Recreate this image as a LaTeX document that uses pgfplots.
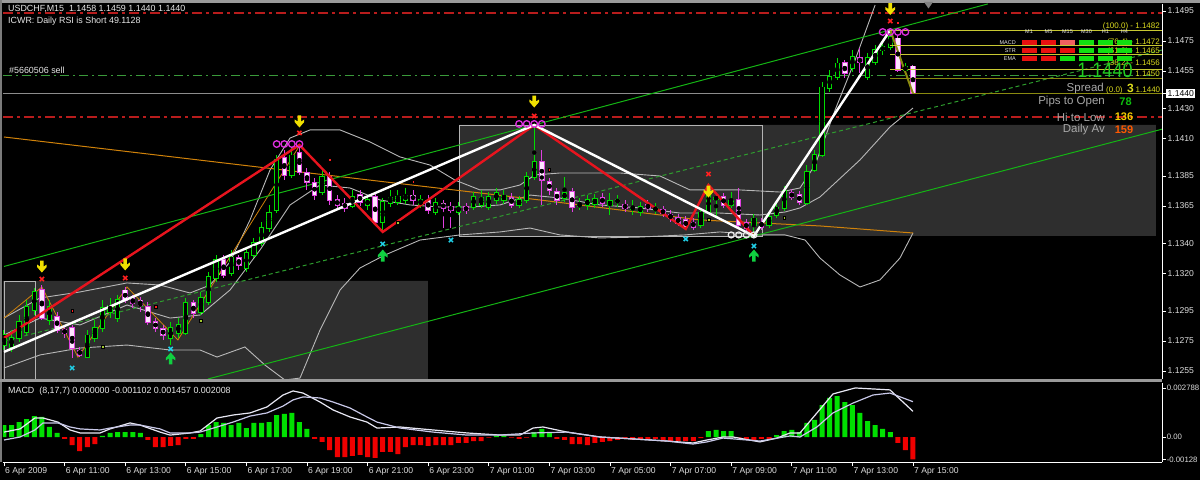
\documentclass[border=0pt]{standalone}
\usepackage{pgfplots}
\pgfplotsset{compat=1.18}
\usepackage{pgfplotstable}
\usepackage{fontspec}
\setmainfont{Liberation Sans}

\definecolor{bullc}{HTML}{00DC00}
\definecolor{bearo}{HTML}{E040E0}
\definecolor{bearin}{HTML}{FFE4FF}
\definecolor{boxfill}{HTML}{2E2E2E}
\definecolor{boxline}{HTML}{B4B4B4}
\definecolor{bbgray}{HTML}{B8B8B8}
\definecolor{tline}{HTML}{14B414}
\definecolor{dline}{HTML}{2E9E2E}
\definecolor{oline}{HTML}{D0820A}
\definecolor{zzred}{HTML}{E8141E}
\definecolor{fibc}{HTML}{C8C832}
\definecolor{fibt}{HTML}{DCDC1E}
\definecolor{ddred}{HTML}{B81C1C}
\definecolor{ordg}{HTML}{3A9A3A}
\definecolor{bidg}{HTML}{8C8C8C}
\definecolor{olivel}{HTML}{8A8A10}
\definecolor{arrowy}{HTML}{F0E000}
\definecolor{xred}{HTML}{FF2020}
\definecolor{circm}{HTML}{E030E0}
\definecolor{cyx}{HTML}{20D0E8}
\definecolor{upg}{HTML}{10D040}
\definecolor{ygdot}{HTML}{A0C830}
\definecolor{macdg}{HTML}{00E000}
\definecolor{macdr}{HTML}{F00000}
\definecolor{macdA}{HTML}{E8E8F4}
\definecolor{macdB}{HTML}{C8C8E8}
\definecolor{mtw}{HTML}{E6E6E6}
\definecolor{ticktext}{HTML}{DCDCDC}
\definecolor{chromec}{HTML}{9A9A9A}
\definecolor{infogray}{HTML}{A8A8A8}
\definecolor{biggreen}{HTML}{22CC22}
\definecolor{cellred}{HTML}{E81010}
\definecolor{cellsal}{HTML}{F06060}
\definecolor{cellgrn}{HTML}{10E010}

\newcommand{\mtf}{\fontsize{8.9}{10}\selectfont}
\newcommand{\tkf}{\fontsize{8.6}{10}\selectfont}
\newcommand{\smf}{\fontsize{5.5}{6}\selectfont}
\newcommand{\infofont}{\fontsize{11.5}{13}\selectfont}

\pgfdeclareplotmark{darrow}{%
  \pgfpathmoveto{\pgfqpoint{-1.8pt}{6.5pt}}%
  \pgfpathlineto{\pgfqpoint{1.8pt}{6.5pt}}%
  \pgfpathlineto{\pgfqpoint{1.8pt}{0.5pt}}%
  \pgfpathlineto{\pgfqpoint{4.8pt}{2.5pt}}%
  \pgfpathlineto{\pgfqpoint{4.8pt}{0pt}}%
  \pgfpathlineto{\pgfqpoint{0pt}{-5.5pt}}%
  \pgfpathlineto{\pgfqpoint{-4.8pt}{0pt}}%
  \pgfpathlineto{\pgfqpoint{-4.8pt}{2.5pt}}%
  \pgfpathlineto{\pgfqpoint{-1.8pt}{0.5pt}}%
  \pgfpathclose
  \pgfusepathqfill}
\pgfdeclareplotmark{uarrow}{%
  \pgfpathmoveto{\pgfqpoint{-1.8pt}{-6.5pt}}%
  \pgfpathlineto{\pgfqpoint{1.8pt}{-6.5pt}}%
  \pgfpathlineto{\pgfqpoint{1.8pt}{-0.5pt}}%
  \pgfpathlineto{\pgfqpoint{4.8pt}{-2.5pt}}%
  \pgfpathlineto{\pgfqpoint{4.8pt}{0pt}}%
  \pgfpathlineto{\pgfqpoint{0pt}{5.5pt}}%
  \pgfpathlineto{\pgfqpoint{-4.8pt}{0pt}}%
  \pgfpathlineto{\pgfqpoint{-4.8pt}{-2.5pt}}%
  \pgfpathlineto{\pgfqpoint{-1.8pt}{-0.5pt}}%
  \pgfpathclose
  \pgfusepathqfill}

\pgfplotstableread{
t o h l c d
9.00 1.12723 1.12823 1.12690 1.12790 1
9.25 1.12710 1.12823 1.12677 1.12770 1
9.50 1.12770 1.12923 1.12743 1.12877 1
9.75 1.12810 1.13023 1.12790 1.12977 1
10.00 1.12957 1.13103 1.12923 1.13077 1
10.25 1.13090 1.13123 1.12890 1.12903 0
10.50 1.12890 1.13023 1.12857 1.12977 1
10.75 1.12910 1.12943 1.12803 1.12823 0
11.00 1.12823 1.12857 1.12770 1.12803 0
11.25 1.12837 1.12857 1.12637 1.12703 0
11.50 1.12690 1.12710 1.12643 1.12657 0
11.75 1.12643 1.12823 1.12637 1.12790 1
12.00 1.12770 1.12890 1.12743 1.12837 1
12.25 1.12837 1.13023 1.12810 1.12970 1
12.50 1.12943 1.13037 1.12903 1.12990 1
12.75 1.12903 1.13057 1.12877 1.13023 1
13.00 1.13090 1.13110 1.13003 1.13023 0
13.25 1.13037 1.13057 1.12970 1.13003 0
13.50 1.13023 1.13043 1.12943 1.12990 0
13.75 1.12977 1.13010 1.12857 1.12877 0
14.00 1.12877 1.12903 1.12810 1.12837 0
14.25 1.12830 1.12857 1.12757 1.12790 0
14.50 1.12770 1.12877 1.12723 1.12837 1
14.75 1.12803 1.12903 1.12770 1.12857 1
15.00 1.12803 1.13037 1.12790 1.13003 1
15.25 1.13003 1.13023 1.12903 1.12937 0
15.50 1.12943 1.13077 1.12923 1.13037 1
15.75 1.13010 1.13210 1.12990 1.13177 1
16.00 1.13170 1.13323 1.13143 1.13290 1
16.25 1.13290 1.13323 1.13170 1.13190 0
16.50 1.13203 1.13357 1.13183 1.13310 1
16.75 1.13303 1.13323 1.13223 1.13257 0
17.00 1.13237 1.13370 1.13210 1.13337 1
17.25 1.13323 1.13437 1.13303 1.13403 1
17.50 1.13403 1.13543 1.13383 1.13503 1
17.75 1.13503 1.13657 1.13477 1.13603 1
18.00 1.13623 1.13990 1.13603 1.13957 1
18.25 1.13970 1.14023 1.13823 1.13857 0
18.50 1.13857 1.14037 1.13837 1.13990 1
18.75 1.14003 1.14057 1.13857 1.13877 0
19.00 1.13870 1.13903 1.13757 1.13810 0
19.25 1.13803 1.13837 1.13690 1.13723 0
19.50 1.13743 1.13890 1.13723 1.13843 1
19.75 1.13843 1.13877 1.13657 1.13690 0
20.00 1.13690 1.13723 1.13623 1.13657 0
20.25 1.13670 1.13703 1.13610 1.13637 0
20.50 1.13650 1.13757 1.13637 1.13710 1
20.75 1.13723 1.13757 1.13650 1.13677 0
21.00 1.13657 1.13723 1.13623 1.13690 1
21.25 1.13710 1.13743 1.13523 1.13543 0
21.50 1.13543 1.13703 1.13477 1.13677 1
21.75 1.13670 1.13757 1.13643 1.13703 1
22.00 1.13677 1.13757 1.13657 1.13710 1
22.25 1.13690 1.13770 1.13663 1.13723 1
22.50 1.13723 1.13757 1.13657 1.13690 0
22.75 1.13657 1.13723 1.13637 1.13690 1
23.00 1.13690 1.13723 1.13597 1.13623 0
23.25 1.13610 1.13703 1.13590 1.13670 1
23.50 1.13670 1.13690 1.13503 1.13637 0
23.75 1.13650 1.13677 1.13503 1.13623 0
24.00 1.13610 1.13677 1.13590 1.13643 1
24.25 1.13643 1.13670 1.13597 1.13623 0
24.50 1.13643 1.13743 1.13623 1.13710 1
24.75 1.13657 1.13757 1.13637 1.13703 1
25.00 1.13643 1.13743 1.13623 1.13710 1
25.25 1.13690 1.13770 1.13663 1.13737 1
25.50 1.13690 1.13757 1.13663 1.13723 1
25.75 1.13703 1.13737 1.13637 1.13657 0
26.00 1.13657 1.13717 1.13637 1.13690 1
26.25 1.13690 1.13877 1.13670 1.13843 1
26.50 1.13843 1.14190 1.13823 1.13943 1
26.75 1.13943 1.14023 1.13657 1.13823 0
27.00 1.13810 1.13837 1.13723 1.13757 0
27.25 1.13743 1.13770 1.13657 1.13690 0
27.50 1.13703 1.13843 1.13677 1.13737 1
27.75 1.13743 1.13770 1.13610 1.13643 0
28.00 1.13650 1.13703 1.13623 1.13663 1
28.25 1.13657 1.13723 1.13623 1.13690 1
28.50 1.13663 1.13730 1.13637 1.13697 1
28.75 1.13703 1.13737 1.13643 1.13670 0
29.00 1.13657 1.13737 1.13590 1.13683 1
29.25 1.13677 1.13723 1.13643 1.13690 1
29.50 1.13657 1.13690 1.13610 1.13637 0
29.75 1.13630 1.13690 1.13590 1.13643 1
30.00 1.13610 1.13677 1.13583 1.13643 1
30.25 1.13657 1.13690 1.13610 1.13637 0
30.50 1.13623 1.13670 1.13597 1.13637 1
30.75 1.13623 1.13650 1.13577 1.13603 0
31.00 1.13590 1.13623 1.13543 1.13570 0
31.25 1.13570 1.13597 1.13517 1.13537 0
31.50 1.13557 1.13583 1.13490 1.13510 0
31.75 1.13543 1.13570 1.13490 1.13510 0
32.00 1.13523 1.13637 1.13503 1.13610 1
32.25 1.13610 1.13803 1.13597 1.13723 1
32.50 1.13697 1.13730 1.13570 1.13710 1
32.75 1.13710 1.13737 1.13637 1.13657 0
33.00 1.13657 1.13743 1.13637 1.13683 1
33.25 1.13690 1.13770 1.13503 1.13523 0
33.50 1.13537 1.13563 1.13477 1.13503 0
33.75 1.13523 1.13597 1.13450 1.13570 1
34.00 1.13543 1.13570 1.13490 1.13510 0
34.25 1.13523 1.13610 1.13503 1.13577 1
34.50 1.13590 1.13677 1.13570 1.13643 1
34.75 1.13637 1.13783 1.13617 1.13750 1
35.00 1.13737 1.13763 1.13690 1.13710 0
35.25 1.13723 1.13750 1.13657 1.13677 0
35.50 1.13670 1.13923 1.13657 1.13877 1
35.75 1.13890 1.14023 1.13877 1.13990 1
36.00 1.13990 1.14477 1.13977 1.14443 1
36.25 1.14437 1.14557 1.14410 1.14510 1
36.50 1.14510 1.14637 1.14490 1.14603 1
36.75 1.14603 1.14623 1.14503 1.14537 0
37.00 1.14570 1.14690 1.14543 1.14643 1
37.25 1.14637 1.14703 1.14537 1.14610 0
37.50 1.14510 1.14670 1.14490 1.14637 1
37.75 1.14610 1.14723 1.14590 1.14690 1
38.00 1.14690 1.14743 1.14657 1.14710 1
38.25 1.14710 1.14823 1.14690 1.14777 1
38.50 1.14770 1.14790 1.14543 1.14557 0
38.75 1.14557 1.14603 1.14537 1.14577 1
39.00 1.14580 1.14590 1.14400 1.14400 0
}\candles

\pgfplotstableread{
t v
9.00 0.00068
9.25 0.00068
9.50 0.00085
9.75 0.00102
10.00 0.00119
10.25 0.00114
10.50 0.00057
10.75 0.00023
11.00 -0.00011
11.25 -0.00046
11.50 -0.00080
11.75 -0.00057
12.00 -0.00040
12.25 0.00006
12.50 0.00023
12.75 0.00028
13.00 0.00028
13.25 0.00028
13.50 0.00023
13.75 -0.00017
14.00 -0.00057
14.25 -0.00057
14.50 -0.00051
14.75 -0.00046
15.00 -0.00011
15.25 -0.00011
15.50 0.00017
15.75 0.00068
16.00 0.00085
16.25 0.00080
16.50 0.00068
16.75 0.00080
17.00 0.00051
17.25 0.00080
17.50 0.00080
17.75 0.00085
18.00 0.00125
18.25 0.00131
18.50 0.00137
18.75 0.00085
19.00 0.00046
19.25 -0.00011
19.50 -0.00028
19.75 -0.00074
20.00 -0.00114
20.25 -0.00114
20.50 -0.00108
20.75 -0.00102
21.00 -0.00114
21.25 -0.00119
21.50 -0.00085
21.75 -0.00085
22.00 -0.00097
22.25 -0.00057
22.50 -0.00046
22.75 -0.00046
23.00 -0.00051
23.25 -0.00046
23.50 -0.00046
23.75 -0.00046
24.00 -0.00034
24.25 -0.00034
24.50 -0.00023
24.75 -0.00023
25.00 -0.00003
25.25 0.00006
25.50 0.00006
25.75 -0.00003
26.00 -0.00011
26.25 -0.00003
26.50 0.00028
26.75 0.00046
27.00 0.00023
27.25 -0.00011
27.50 -0.00017
27.75 -0.00040
28.00 -0.00040
28.25 -0.00046
28.50 -0.00034
28.75 -0.00028
29.00 -0.00023
29.25 -0.00017
29.50 -0.00011
29.75 -0.00017
30.00 -0.00017
30.25 -0.00017
30.50 -0.00011
30.75 -0.00023
31.00 -0.00023
31.25 -0.00023
31.50 -0.00023
31.75 -0.00023
32.00 -0.00006
32.25 0.00034
32.50 0.00040
32.75 0.00034
33.00 0.00034
33.25 -0.00003
33.50 -0.00011
33.75 -0.00017
34.00 -0.00011
34.25 -0.00011
34.50 0.00011
34.75 0.00034
35.00 0.00040
35.25 0.00028
35.50 0.00080
35.75 0.00097
36.00 0.00182
36.25 0.00222
36.50 0.00233
36.75 0.00199
37.00 0.00182
37.25 0.00137
37.50 0.00091
37.75 0.00068
38.00 0.00046
38.25 0.00028
38.50 -0.00034
38.75 -0.00074
39.00 -0.00128
}\hist

\begin{document}
\begin{tikzpicture}[x=1pt,y=1pt]
\path[use as bounding box] (0,0) rectangle (1200,480);
\fill[black] (0,0) rectangle (1200,480);

%================ MAIN PRICE PANEL =================
\begin{axis}[
  at={(3pt,476pt)}, anchor=north west,
  scale only axis, width=1159pt, height=375pt,
  xmin=8.967, xmax=47.218, ymin=1.124966, ymax=1.149966,
  axis x line=none, axis y line*=right,
  axis line style={-, draw=white, line width=0.8pt},
  ytick={1.1255,1.1275,1.1295,1.1320,1.1340,1.1365,1.1385,1.1410,1.1430,1.1455,1.1475,1.1495},
  yticklabels={1.1255,1.1275,1.1295,1.1320,1.1340,1.1365,1.1385,1.1410,1.1430,1.1455,1.1475,1.1495},
  extra y ticks={1.1440}, extra y tick labels={1.1440},
  extra y tick style={tick label style={fill=white, text=black, inner sep=1.2pt}},
  scaled y ticks=false,
  tick align=outside, major tick length=4pt,
  tick style={draw=white, line width=0.6pt},
  every tick label/.append style={font=\tkf, text=ticktext},
  yticklabel style={inner sep=1.5pt},
  /pgf/number format/assume math mode=true,
]
% shaded boxes
\addplot[fill=boxfill, draw=none] coordinates {(8.967,1.124966) (22.99,1.124966) (22.99,1.13150) (8.967,1.13150) (8.967,1.124966)};
\addplot[draw=boxline, line width=0.8pt] coordinates {(9.0,1.124966) (9.0,1.13150) (10.02,1.13150) (10.02,1.124966)};
\addplot[fill=boxfill, draw=none] coordinates {(34.02,1.13450) (47.02,1.13450) (47.02,1.14190) (34.02,1.14190) (34.02,1.13450)};
\addplot[fill=boxfill, draw=boxline, line width=0.8pt] coordinates {(24.02,1.13450) (34.02,1.13450) (34.02,1.14190) (24.02,1.14190) (24.02,1.13450)};

% horizontal levels
\addplot[draw=ddred, line width=1.2pt, dash pattern=on 10pt off 4pt on 3pt off 4pt] coordinates {(8.967,1.14937) (47.218,1.14937)};
\addplot[draw=ddred, line width=1.2pt, dash pattern=on 10pt off 4pt on 3pt off 4pt] coordinates {(8.967,1.14243) (47.218,1.14243)};
\addplot[draw=ordg, line width=1pt, dash pattern=on 9pt off 4pt on 2pt off 4pt] coordinates {(8.967,1.14517) (47.218,1.14517)};
\addplot[draw=bidg, line width=0.8pt] coordinates {(8.967,1.1440) (47.218,1.1440)};

% Bollinger bands
\addplot[draw=bbgray, line width=0.9pt] coordinates {(9.00,1.12903) (10.19,1.13037) (11.51,1.13077) (13.06,1.13137) (14.15,1.13123) (15.14,1.13070) (15.80,1.13123) (16.46,1.13277) (17.12,1.13557) (17.78,1.13890) (18.44,1.14103) (19.10,1.14157) (20.09,1.14157) (21.08,1.14077) (22.07,1.13977) (23.06,1.13923) (23.88,1.13823) (24.71,1.13757) (25.37,1.13757) (26.03,1.13790) (26.52,1.13857) (27.35,1.13870) (29.33,1.13870) (30.65,1.13850) (31.64,1.13757) (33.29,1.13757) (34.61,1.13743) (35.27,1.13770) (35.77,1.13923) (36.43,1.14290) (37.09,1.14623) (37.75,1.14990)};
\addplot[draw=bbgray, line width=0.9pt] coordinates {(9.00,1.12790) (10.19,1.12903) (11.51,1.12857) (13.06,1.12990) (14.48,1.12903) (15.47,1.12923) (16.46,1.13090) (17.45,1.13357) (18.44,1.13657) (19.43,1.13790) (20.42,1.13770) (21.41,1.13690) (22.40,1.13657) (23.39,1.13643) (24.38,1.13643) (25.37,1.13657) (26.36,1.13723) (27.35,1.13703) (28.67,1.13657) (29.99,1.13637) (31.31,1.13603) (32.63,1.13603) (33.95,1.13590) (34.78,1.13610) (35.27,1.13637) (35.93,1.13710) (37.25,1.13957) (38.24,1.14177) (39.00,1.14303)};
\addplot[draw=bbgray, line width=0.9pt] coordinates {(9.00,1.12570) (10.19,1.12657) (11.51,1.12703) (13.06,1.12723) (14.48,1.12690) (15.47,1.12690) (16.03,1.12643) (16.95,1.12710) (17.61,1.12590) (18.27,1.12490) (18.77,1.12503) (19.43,1.12823) (20.09,1.13090) (20.75,1.13237) (21.57,1.13323) (22.73,1.13423) (24.05,1.13457) (25.37,1.13477) (26.36,1.13503) (27.35,1.13457) (28.67,1.13437) (29.99,1.13443) (31.47,1.13457) (32.63,1.13477) (33.95,1.13457) (34.78,1.13457) (35.44,1.13423) (35.93,1.13303) (36.59,1.13190) (37.25,1.13110) (37.91,1.13157) (38.57,1.13303) (39.00,1.13470)};

% trend lines and averages
\addplot[draw=oline, line width=1pt] coordinates {(9.0,1.14110) (18.77,1.13877) (26.69,1.13690) (31.97,1.13557) (35.93,1.13517) (39.0,1.13470)};
\addplot[draw=oline, line width=0.8pt] coordinates {(9.00,1.12903) (10.25,1.13110) (11.44,1.12643) (13.06,1.13110) (14.74,1.12757) (18.77,1.14057)};
\addplot[draw=tline, line width=1pt] coordinates {(9.0,1.13247) (41.47,1.14997)};
\addplot[draw=tline, line width=1pt] coordinates {(15.73,1.124966) (47.218,1.14162)};
\addplot[draw=dline, line width=1pt, dash pattern=on 4pt off 3pt] coordinates {(9.0,1.12750) (47.218,1.14690)};

% candles: wicks
\addplot[only marks, mark=none, restrict expr to domain={\thisrow{d}}{0.5:1.5},
  error bars/.cd, y dir=both, y explicit, error mark=none,
  error bar style={draw=bullc, line width=1pt}]
  table[x=t, y expr={(\thisrow{h}+\thisrow{l})/2}, y error expr={(\thisrow{h}-\thisrow{l})/2}] {\candles};
\addplot[only marks, mark=none, restrict expr to domain={\thisrow{d}}{-0.5:0.5},
  error bars/.cd, y dir=both, y explicit, error mark=none,
  error bar style={draw=bearo, line width=1pt}]
  table[x=t, y expr={(\thisrow{h}+\thisrow{l})/2}, y error expr={(\thisrow{h}-\thisrow{l})/2}] {\candles};
% candles: bodies
\addplot[only marks, mark=none, restrict expr to domain={\thisrow{d}}{0.5:1.5},
  error bars/.cd, y dir=both, y explicit, error mark=none,
  error bar style={draw=bullc, line width=5.4pt, shorten <=-0.7pt, shorten >=-0.7pt}]
  table[x=t, y expr={(\thisrow{o}+\thisrow{c})/2}, y error expr={abs(\thisrow{c}-\thisrow{o})/2}] {\candles};
\addplot[only marks, mark=none, restrict expr to domain={\thisrow{d}}{0.5:1.5},
  error bars/.cd, y dir=both, y explicit, error mark=none,
  error bar style={draw=black, line width=3.4pt}]
  table[x=t, y expr={(\thisrow{o}+\thisrow{c})/2}, y error expr={abs(\thisrow{c}-\thisrow{o})/2}] {\candles};
\addplot[only marks, mark=none, restrict expr to domain={\thisrow{d}}{-0.5:0.5},
  error bars/.cd, y dir=both, y explicit, error mark=none,
  error bar style={draw=bearo, line width=5.4pt, shorten <=-0.7pt, shorten >=-0.7pt}]
  table[x=t, y expr={(\thisrow{o}+\thisrow{c})/2}, y error expr={abs(\thisrow{c}-\thisrow{o})/2}] {\candles};
\addplot[only marks, mark=none, restrict expr to domain={\thisrow{d}}{-0.5:0.5},
  error bars/.cd, y dir=both, y explicit, error mark=none,
  error bar style={draw=bearin, line width=3.4pt}]
  table[x=t, y expr={(\thisrow{o}+\thisrow{c})/2}, y error expr={abs(\thisrow{c}-\thisrow{o})/2}] {\candles};

% zigzags
\addplot[draw=zzred, line width=2.4pt] coordinates {(9.00,1.12770) (18.75,1.14057) (21.50,1.13477) (26.50,1.14190) (31.50,1.13497) (32.25,1.13790) (33.75,1.13450)};
\addplot[draw=white, line width=2.4pt] coordinates {(9.00,1.12677) (26.50,1.14190) (33.75,1.13450) (38.25,1.14823)};
\addplot[draw=olivel, line width=2pt] coordinates {(38.25,1.14823) (39.0,1.1440)};

% fibonacci levels
\addplot[draw=fibc, line width=0.9pt] coordinates {(38.25,1.1482) (47.218,1.1482)};
\addplot[draw=fibc, line width=0.9pt] coordinates {(38.25,1.14721) (47.218,1.14721)};
\addplot[draw=fibc, line width=0.9pt] coordinates {(38.25,1.14660) (47.218,1.14660)};
\addplot[draw=fibc, line width=0.9pt] coordinates {(38.25,1.14560) (47.218,1.14560)};
\addplot[draw=olivel, line width=1.2pt] coordinates {(38.25,1.14499) (47.218,1.14499)};
\addplot[draw=olivel, line width=1.2pt] coordinates {(39.0,1.1440) (47.218,1.1440)};

% markers
\addplot[only marks, mark=darrow, mark options={fill=arrowy, draw=none}] coordinates {(10.25,1.13243) (13.0,1.13257) (18.75,1.14210) (26.5,1.14343) (32.25,1.13743) (38.25,1.14960)};
\addplot[only marks, mark=x, mark size=3pt, mark options={draw=xred, line width=1.6pt}] coordinates {(10.25,1.13163) (13.0,1.13170) (18.75,1.14137) (26.5,1.14250) (32.25,1.13863) (38.25,1.14883)};
\addplot[only marks, mark=o, mark size=3.3pt, mark options={draw=circm, line width=1.3pt}] coordinates {(18.0,1.14063) (18.25,1.14063) (18.5,1.14063) (18.75,1.14063) (26.0,1.14197) (26.25,1.14197) (26.5,1.14197) (26.75,1.14197) (38.0,1.14810) (38.25,1.14810) (38.5,1.14810) (38.75,1.14810)};
\addplot[only marks, mark=o, mark size=3pt, mark options={draw=white!85!gray, line width=1.2pt}] coordinates {(33.0,1.13457) (33.25,1.13457) (33.5,1.13457) (33.75,1.13457)};
\addplot[only marks, mark=x, mark size=3pt, mark options={draw=cyx, line width=1.5pt}] coordinates {(11.25,1.12570) (14.5,1.12697) (21.5,1.13397) (23.75,1.13423) (31.5,1.13430) (33.75,1.13383)};
\addplot[only marks, mark=uarrow, mark options={fill=upg, draw=none}] coordinates {(14.5,1.12637) (21.5,1.13323) (33.75,1.13323)};
\addplot[only marks, mark=square*, mark size=1.4pt, mark options={fill=ygdot, draw=none}] coordinates {(12.25,1.12710) (15.5,1.12883) (22.0,1.13537) (32.25,1.13557) (34.75,1.13570)};
\addplot[only marks, mark=square*, mark size=1.3pt, mark options={fill=xred, draw=none}] coordinates {(11.25,1.12950) (14.0,1.12977) (19.75,1.13957) (22.5,1.13810) (27.0,1.13890) (38.5,1.14870)};
\end{axis}

%================ MACD PANEL =================
\begin{axis}[
  at={(3pt,97pt)}, anchor=north west,
  scale only axis, width=1159pt, height=79pt,
  xmin=8.967, xmax=47.218, ymin=-0.0014225, ymax=0.0030726,
  axis x line*=bottom, axis y line*=right,
  axis line style={-, draw=white, line width=0.8pt},
  xtick={9,11,13,15,17,19,21,23,25,27,29,31,33,35,37,39},
  xticklabels={6 Apr 2009,6 Apr 11:00,6 Apr 13:00,6 Apr 15:00,6 Apr 17:00,6 Apr 19:00,6 Apr 21:00,6 Apr 23:00,7 Apr 01:00,7 Apr 03:00,7 Apr 05:00,7 Apr 07:00,7 Apr 09:00,7 Apr 11:00,7 Apr 13:00,7 Apr 15:00},
  ytick={-0.00128,0,0.002788}, yticklabels={-0.00128,0.00,0.002788},
  scaled y ticks=false, scaled x ticks=false,
  tick align=outside, major tick length=4pt,
  tick style={draw=white, line width=0.6pt},
  every tick label/.append style={font=\tkf, text=ticktext},
  xticklabel style={anchor=north west, inner sep=1pt},
  yticklabel style={font=\fontsize{7.8}{9}\selectfont, inner sep=0.6pt},
  /pgf/number format/assume math mode=true,
]
\addplot[ybar, bar width=5pt, bar shift=0pt, fill=macdg, draw=none, restrict y to domain=0:1] table[x=t, y=v] {\hist};
\addplot[ybar, bar width=5pt, bar shift=0pt, fill=macdr, draw=none, restrict y to domain=-1:0] table[x=t, y=v] {\hist};
\addplot[draw=macdA, line width=1.2pt] coordinates {(9.0,0.00028) (9.53,0.00046) (10.02,0.00108) (10.29,0.00108) (10.78,0.00085) (11.18,0.00040) (11.51,0.00023) (12.17,0.00023) (12.50,0.00046) (13.16,0.00080) (13.49,0.00068) (14.15,0.00028) (14.48,0.00011) (15.14,0.00023) (15.47,0.00034) (16.03,0.00108) (16.56,0.00125) (17.12,0.00137) (17.68,0.00171) (18.21,0.00239) (18.54,0.00262) (18.87,0.00250) (19.43,0.00199) (19.86,0.00154) (20.42,0.00114) (20.98,0.00085) (21.31,0.00051) (22.07,0.00057) (23.16,0.00040) (24.28,0.00023) (25.37,0.00011) (26.03,0.00011) (26.46,0.00051) (26.79,0.00057) (27.58,0.00028) (28.67,0.0) (29.76,-0.00011) (30.88,-0.00023) (31.74,-0.00034) (32.20,-0.00017) (32.73,0.0) (33.06,0.0) (33.95,-0.00028) (34.51,-0.00006) (34.94,0.00023) (35.27,0.00023) (35.83,0.00137) (36.36,0.00245) (37.09,0.00279) (38.24,0.00268) (39.0,0.00146)};
\addplot[draw=macdB, line width=1.2pt] coordinates {(9.0,-0.00017) (9.53,0.0) (10.02,0.00040) (10.29,0.00080) (10.78,0.00080) (11.18,0.00057) (11.51,0.00046) (12.17,0.00040) (12.50,0.00051) (13.16,0.00068) (13.49,0.00068) (14.15,0.00046) (14.48,0.00023) (15.14,0.00023) (15.47,0.00028) (16.03,0.00057) (16.56,0.00085) (17.12,0.00119) (17.68,0.00137) (18.21,0.00176) (18.54,0.00211) (18.87,0.00228) (19.43,0.00222) (19.86,0.00199) (20.42,0.00165) (20.98,0.00114) (21.31,0.00085) (22.07,0.00051) (23.16,0.00028) (24.28,0.00011) (25.37,0.00011) (26.46,0.00023) (27.58,0.00028) (28.67,0.0) (29.76,-0.00011) (30.88,-0.00023) (31.74,-0.00040) (32.20,-0.00028) (32.73,-0.00006) (33.95,-0.00023) (34.94,0.00006) (35.27,0.0) (35.83,0.00057) (36.36,0.00137) (37.02,0.00193) (37.68,0.00239) (38.24,0.00250) (39.0,0.00201)};
\end{axis}

%================ window chrome =================
\fill[chromec] (0,477.3) rectangle (1200,480);
\fill[chromec!80!black] (0,18) rectangle (2.4,480);
\fill[chromec] (0,97.6) rectangle (1162,100.6);
\fill[gray] (924,478) -- (933,478) -- (928.5,471.5) -- cycle;

%================ texts =================
\node[anchor=west, inner sep=0pt, text=mtw, font=\mtf] at (8,471) {USDCHF,M15\ \ 1.1458 1.1459 1.1440 1.1440};
\node[anchor=west, inner sep=0pt, text=mtw, font=\mtf] at (8,459) {ICWR: Daily RSI is Short 49.1128};
\node[anchor=west, inner sep=0pt, text=mtw, font=\mtf] at (9,410) {\#5660506 sell};
\node[anchor=west, inner sep=0pt, text=mtw, font=\mtf] at (8,89) {MACD\ \ (8,17,7) 0.000000 -0.001102 0.001457 0.002008};

% fib labels
\begin{scope}[every node/.style={anchor=east, inner sep=0pt, text=fibt, font=\fontsize{8}{9}\selectfont}]
\node at (1160,454) {(100.0) - 1.1482};
\node at (1160,438) {(76.4) - 1.1472};
\node at (1160,428.5) {(61.8) - 1.1465};
\node at (1160,417) {(38.2) - 1.1456};
\node at (1160,406) {1.1450};
\end{scope}
\node[text=biggreen, font=\fontsize{21}{23}\selectfont, inner sep=0pt, xscale=0.86, transform shape] at (1105,409.5) {1.1440};

% info block
\node[anchor=east, inner sep=0pt, text=infogray, font=\infofont] at (1104,391.5) {Spread};
\node[anchor=west, inner sep=0pt, text=fibt, font=\fontsize{8}{9}\selectfont] at (1106,390) {(0.0)};
\node[inner sep=0pt, text=fibt, font=\fontsize{12}{13}\selectfont\bfseries] at (1130.5,392) {3};
\node[anchor=west, inner sep=0pt, text=fibt, font=\fontsize{8}{9}\selectfont] at (1135.5,390) {1.1440};
\node[anchor=east, inner sep=0pt, text=infogray, font=\infofont] at (1105,378) {Pips to Open};
\node[inner sep=0pt, text=cellgrn!85!black, font=\fontsize{11}{12}\selectfont\bfseries] at (1125.5,378) {78};
\node[anchor=east, inner sep=0pt, text=infogray, font=\infofont] at (1105,363) {Hi to Low};
\node[inner sep=0pt, text=arrowy!80!orange, font=\fontsize{11}{12}\selectfont\bfseries] at (1124,363) {136};
\node[anchor=east, inner sep=0pt, text=infogray, font=\infofont] at (1105,350) {Daily Av};
\node[inner sep=0pt, text=orange!70!red, font=\fontsize{11}{12}\selectfont\bfseries] at (1124,350) {159};

% signal table
\begin{scope}[every node/.style={inner sep=0pt, text=white!80!gray, font=\smf}]
\node at (1029,448) {M1};
\node at (1048.5,448) {M5};
\node at (1067.5,448) {M15};
\node at (1086.5,448) {M30};
\node at (1105.5,448) {H1};
\node at (1124.5,448) {H4};
\node[anchor=east] at (1016,437.2) {MACD};
\node[anchor=east] at (1016,429.5) {STR};
\node[anchor=east] at (1016,421.7) {EMA};
\end{scope}
% MACD row
\fill[cellred] (1021.7,434.5) rectangle (1036.7,440);
\fill[cellred] (1041,434.5) rectangle (1056,440);
\fill[cellsal] (1060,434.5) rectangle (1075,440);
\fill[cellgrn] (1079,434.5) rectangle (1094,440);
\fill[cellgrn] (1098,434.5) rectangle (1113,440);
\fill[cellgrn] (1117,434.5) rectangle (1132,440);
% STR row
\fill[cellred] (1021.7,426.8) rectangle (1036.7,432.3);
\fill[cellred] (1041,426.8) rectangle (1056,432.3);
\fill[cellred] (1060,426.8) rectangle (1075,432.3);
\fill[cellgrn] (1079,426.8) rectangle (1094,432.3);
\fill[cellgrn] (1098,426.8) rectangle (1113,432.3);
\fill[cellgrn] (1117,426.8) rectangle (1132,432.3);
% EMA row
\fill[cellred] (1021.7,419) rectangle (1036.7,424.3);
\fill[cellred] (1041,419) rectangle (1056,424.3);
\fill[cellgrn] (1060,419) rectangle (1075,424.3);
\fill[cellgrn] (1079,419) rectangle (1094,424.3);
\fill[cellgrn] (1098,419) rectangle (1113,424.3);
\fill[cellgrn] (1117,419) rectangle (1132,424.3);
\end{tikzpicture}
\end{document}
